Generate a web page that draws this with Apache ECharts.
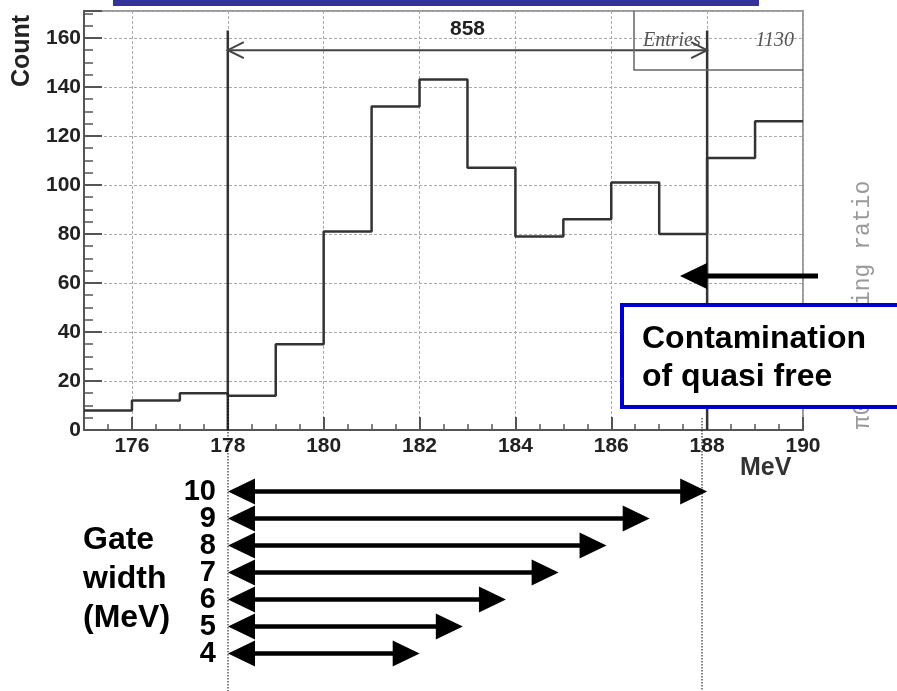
<!DOCTYPE html>
<html lang="en">
<head>
<meta charset="UTF-8">
<title>Gate width</title>
<script src="https://cdn.jsdelivr.net/npm/echarts@6/dist/echarts.min.js"></script>
<style>html,body{margin:0;padding:0;background:#fff;}</style>
</head>
<body>
<div id="main" style="width:897px;height:691px;"></div>
<script type="text/javascript">
// histogram: bin edges (MeV) and counts per bin
var binEdges = [175, 176, 177, 178, 179, 180, 181, 182, 183, 184, 185, 186, 187, 188, 189, 190];
var counts = [8, 12, 15, 14, 35, 81, 132, 143, 107, 79, 86, 101, 80, 111, 126];
var xTicks = [176, 178, 180, 182, 184, 186, 188, 190];

// gate drawn on the histogram
var gateLines = [178, 188];
var gateTop = 163;
var gateArrowY = 155;
var gateCount = '858';
var entries = '1130';

// gate width arrows below the plot
var gateWidths = ['4', '5', '6', '7', '8', '9', '10'];
var gateStart = 178;
var gateEnds = [182, 182.9, 183.8, 184.9, 185.9, 186.8, 188];

var chartDom = document.getElementById('main');
var myChart = echarts.init(chartDom);
var font = '"Liberation Sans", Arial, sans-serif';
var grid = {type: [3, 2], color: '#aaa', width: 1};

var histData = binEdges.map(function (e, i) {
    return [e, counts[Math.min(i, counts.length - 1)]];
});

function label(text, x, y, size, align, extra) {
    var s = {
        text: text, x: x, y: y, font: 'bold ' + size + 'px ' + font, fill: '#000',
        align: align, verticalAlign: 'middle', textAlign: align, textVerticalAlign: 'middle'
    };
    for (var k in extra) s[k] = extra[k];
    return {type: 'text', z: 20, style: s};
}

var option = {
    animation: false,
    grid: [
        {left: 84, top: 11, width: 719, height: 419, show: true, borderColor: '#999', borderWidth: 2},
        {left: 228, top: 478, width: 575, height: 189}
    ],
    xAxis: [
        {
            gridIndex: 0, type: 'value', min: 175, max: 190,
            axisLine: {lineStyle: {color: '#555', width: 2}},
            axisTick: {inside: true, length: 13, customValues: xTicks, lineStyle: {color: '#555', width: 2}},
            axisLabel: {customValues: xTicks, margin: 6, color: '#222', fontSize: 21, fontWeight: 'bold', fontFamily: font},
            splitLine: {show: true, lineStyle: grid}
        },
        {
            gridIndex: 0, type: 'value', min: 175, max: 190, interval: 0.5, position: 'bottom',
            axisLine: {show: false},
            axisTick: {inside: true, length: 6, lineStyle: {color: '#555', width: 1.5}},
            axisLabel: {show: false},
            splitLine: {show: false}
        },
        {gridIndex: 1, type: 'value', min: 178, max: 190, show: false}
    ],
    yAxis: [
        {
            gridIndex: 0, type: 'value', min: 0, max: 171, interval: 20,
            axisLine: {show: true, lineStyle: {color: '#555', width: 2}},
            axisTick: {show: true, inside: true, length: 18, lineStyle: {color: '#555', width: 2}},
            axisLabel: {
                margin: 3, color: '#222', fontSize: 21, fontWeight: 'bold', fontFamily: font,
                formatter: function (v) { return v % 20 === 0 ? v : ''; }
            },
            splitLine: {show: true, lineStyle: grid}
        },
        {
            gridIndex: 0, type: 'value', min: 0, max: 171, interval: 5, position: 'left',
            axisLine: {show: false},
            axisTick: {show: true, inside: true, length: 9, lineStyle: {color: '#555', width: 1.5}},
            axisLabel: {show: false},
            splitLine: {show: false}
        },
        {
            gridIndex: 1, type: 'category', data: gateWidths,
            axisLine: {show: false},
            axisTick: {show: false},
            axisLabel: {interval: 0, hideOverlap: false, margin: 12, color: '#000', fontSize: 29, fontWeight: 'bold', fontFamily: font, lineHeight: 27}
        }
    ],
    series: [
        {
            name: 'Count', type: 'line', xAxisIndex: 0, yAxisIndex: 0,
            step: 'end', symbol: 'none',
            lineStyle: {color: '#333', width: 2.5},
            data: histData
        },
        {
            name: 'gate', type: 'custom', xAxisIndex: 0, yAxisIndex: 0,
            data: [[gateLines[0], gateLines[1], gateTop, gateArrowY]],
            renderItem: function (params, api) {
                var l0 = api.coord([api.value(0), 0]), l1 = api.coord([api.value(0), api.value(2)]);
                var r0 = api.coord([api.value(1), 0]), r1 = api.coord([api.value(1), api.value(2)]);
                var a = api.coord([api.value(0), api.value(3)]), b = api.coord([api.value(1), api.value(3)]);
                var ln = {stroke: '#333', lineWidth: 2.5};
                var ar = {stroke: '#444', lineWidth: 2, fill: null};
                return {
                    type: 'group',
                    children: [
                        {type: 'line', shape: {x1: l0[0], y1: l0[1], x2: l1[0], y2: l1[1]}, style: ln},
                        {type: 'line', shape: {x1: r0[0], y1: r0[1], x2: r1[0], y2: r1[1]}, style: ln},
                        {type: 'line', shape: {x1: a[0], y1: a[1], x2: b[0], y2: b[1]}, style: ar},
                        {type: 'polyline', shape: {points: [[a[0] + 16, a[1] - 8], [a[0], a[1]], [a[0] + 16, a[1] + 8]]}, style: ar},
                        {type: 'polyline', shape: {points: [[b[0] - 16, b[1] - 8], [b[0], b[1]], [b[0] - 16, b[1] + 8]]}, style: ar},
                        {type: 'text', style: {
                            text: gateCount, x: (a[0] + b[0]) / 2, y: a[1] - 11,
                            align: 'center', verticalAlign: 'bottom', textAlign: 'center', textVerticalAlign: 'bottom',
                            font: 'bold 21px ' + font, fill: '#222'
                        }}
                    ]
                };
            }
        },
        {
            name: 'gate width', type: 'custom', xAxisIndex: 2, yAxisIndex: 2,
            data: gateWidths.map(function (w, i) { return [gateStart, gateEnds[i], i]; }),
            encode: {x: [0, 1], y: 2},
            renderItem: function (params, api) {
                var a = api.coord([api.value(0), api.value(2)]);
                var b = api.coord([api.value(1), api.value(2)]);
                var h = 27, hw = 13;
                return {
                    type: 'group',
                    children: [
                        {type: 'line', shape: {x1: a[0] + h - 2, y1: a[1], x2: b[0] - h + 2, y2: b[1]}, style: {stroke: '#000', lineWidth: 4.5}},
                        {type: 'polygon', shape: {points: [[a[0], a[1]], [a[0] + h, a[1] - hw], [a[0] + h, a[1] + hw]]}, style: {fill: '#000'}},
                        {type: 'polygon', shape: {points: [[b[0], b[1]], [b[0] - h, b[1] - hw], [b[0] - h, b[1] + hw]]}, style: {fill: '#000'}}
                    ]
                };
            }
        }
    ],
    graphic: [
        {type: 'rect', z: 20, shape: {x: 113, y: 0, width: 646, height: 6}, style: {fill: '#333399'}},
        {type: 'text', z: 20, x: 22, y: 51, rotation: Math.PI / 2, style: {
            text: 'Count', font: 'bold 25px ' + font, fill: '#222',
            align: 'center', verticalAlign: 'middle', textAlign: 'center', textVerticalAlign: 'middle'}},
        {type: 'polyline', z: 20, shape: {points: [[634, 11], [634, 70], [803, 70]]}, style: {stroke: '#666', lineWidth: 1.5, fill: null}},
        {type: 'text', z: 20, style: {
            text: 'Entries', x: 643, y: 41, font: 'italic 20px "Liberation Serif", serif', fill: '#555',
            align: 'left', verticalAlign: 'middle', textAlign: 'left', textVerticalAlign: 'middle'}},
        {type: 'text', z: 20, style: {
            text: entries, x: 794, y: 41, font: 'italic 20px "Liberation Serif", serif', fill: '#555',
            align: 'right', verticalAlign: 'middle', textAlign: 'right', textVerticalAlign: 'middle'}},
        label('MeV', 740, 468, 25, 'left', {fill: '#333'}),
        {type: 'line', z: 20, shape: {x1: 228, y1: 393, x2: 228, y2: 691}, style: {stroke: '#000', lineWidth: 1, lineDash: [1.5, 1.5]}},
        {type: 'line', z: 20, shape: {x1: 702, y1: 418, x2: 702, y2: 691}, style: {stroke: '#000', lineWidth: 1, lineDash: [1.5, 1.5]}},
        {type: 'text', z: 20, x: 863, y: 305, rotation: Math.PI / 2, style: {
            text: 'π0 branching ratio', font: '23px "Liberation Mono", monospace', fill: '#999',
            align: 'center', verticalAlign: 'middle', textAlign: 'center', textVerticalAlign: 'middle'}},
        {type: 'line', z: 20, shape: {x1: 704, y1: 276, x2: 818, y2: 276}, style: {stroke: '#000', lineWidth: 5}},
        {type: 'polygon', z: 20, shape: {points: [[680, 276], [707, 263], [707, 289]]}, style: {fill: '#000'}},
        {type: 'rect', z: 30, shape: {x: 622, y: 305, width: 290, height: 102}, style: {fill: '#fff', stroke: '#0000cc', lineWidth: 4}},
        {type: 'text', z: 31, style: {
            text: 'Contamination', x: 642, y: 339, font: 'bold 32px ' + font, fill: '#000',
            align: 'left', verticalAlign: 'middle', textAlign: 'left', textVerticalAlign: 'middle'}},
        {type: 'text', z: 31, style: {
            text: 'of quasi free', x: 642, y: 377, font: 'bold 32px ' + font, fill: '#000',
            align: 'left', verticalAlign: 'middle', textAlign: 'left', textVerticalAlign: 'middle'}},
        label('Gate\nwidth\n(MeV)', 83, 579, 32, 'left', {lineHeight: 39})
    ]
};

option && myChart.setOption(option);
</script>
</body>
</html>
